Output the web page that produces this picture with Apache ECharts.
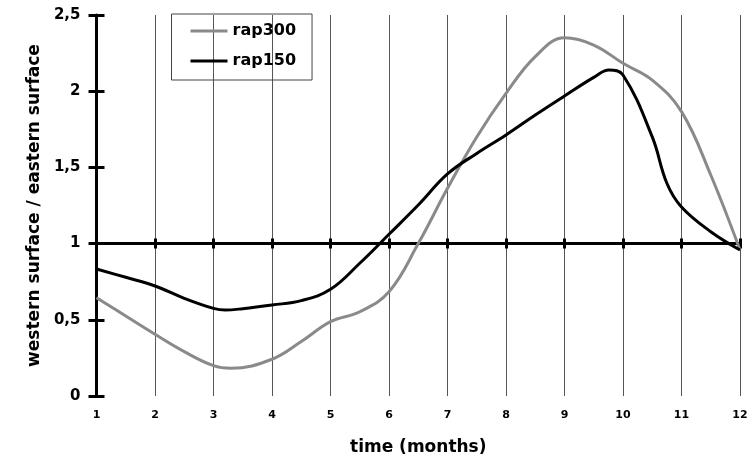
<!DOCTYPE html>
<html lang="en">
<head>
  <meta charset="UTF-8">
  <title>rap300 / rap150</title>
  <style>
    html, body {margin: 0; padding: 0; background: #fff;}
    #chart {width: 754px; height: 461px;}
  </style>
</head>
<body>
  <div id="chart"></div>

  <script src="https://cdn.jsdelivr.net/npm/echarts@6/dist/echarts.min.js"></script>
  <script>
    // data (half-month readings, plus the turning points)
    var monthTicks = [1, 2, 3, 4, 5, 6, 7, 8, 9, 10, 11, 12];

    var rap300Time = [1, 1.5, 2, 2.5, 3, 3.3, 4, 4.5, 5, 5.5, 6, 6.5, 7, 7.5, 8, 8.5, 9, 9.5, 10, 10.5, 11, 11.5, 12];
    var rap300 = [0.645, 0.525, 0.405, 0.291, 0.199, 0.182, 0.241, 0.357, 0.488, 0.553, 0.684, 1.00, 1.363,
                  1.70, 1.986, 2.227, 2.35, 2.303, 2.183, 2.073, 1.866, 1.45, 0.958];

    var rap150Time = [1, 1.5, 2, 2.5, 3, 3.2, 3.5, 4, 4.5, 5, 5.5, 6, 6.5, 7, 7.5, 8, 8.5, 9, 9.5, 9.76, 10, 10.5, 10.75, 11, 11.5, 12];
    var rap150 = [0.833, 0.779, 0.722, 0.641, 0.575, 0.564, 0.573, 0.597, 0.626, 0.70, 0.871, 1.061, 1.253,
                  1.457, 1.592, 1.713, 1.844, 1.969, 2.091, 2.139, 2.106, 1.70, 1.396, 1.24, 1.078, 0.958];

    var yMin = 0, yMax = 2.5, yStep = 0.5;
    var refLine = 1;   // the horizontal axis crosses here

    var font = '"DejaVu Sans", "Liberation Sans", Arial, sans-serif';

    function pairs(xs, ys) {
      return xs.map(function (x, i) { return [x, ys[i]]; });
    }

    var chart = echarts.init(document.getElementById('chart'));

    var xBase = {
      type: 'value',
      min: monthTicks[0],
      max: monthTicks[monthTicks.length - 1],
      interval: 1,
      gridIndex: 0
    };

    var option = {
      animation: false,
      grid: {left: 96.5, right: 14, top: 15, bottom: 65},
      legend: {
        orient: 'vertical',
        left: 171.5,
        top: 14,
        padding: [9, 16, 11, 19],
        itemGap: 14,
        itemWidth: 37,
        itemHeight: 3,
        icon: 'rect',
        borderColor: '#444',
        borderWidth: 1,
        textStyle: {fontFamily: font, fontWeight: 'bold', fontSize: 16, color: '#000'},
        data: ['rap300', 'rap150']
      },
      xAxis: [
        Object.assign({}, xBase, {
          position: 'bottom',
          name: 'time (months)',
          nameLocation: 'middle',
          nameGap: 43,
          nameTextStyle: {fontFamily: font, fontWeight: 'bold', fontSize: 17, color: '#000'},
          axisLine: {show: false, onZero: false},
          axisTick: {show: false},
          axisLabel: {margin: 14, fontFamily: font, fontWeight: 'bold', fontSize: 11, color: '#000'},
          splitLine: {show: true, lineStyle: {color: '#555', width: 1}}
        }),
        // horizontal line at 1, ticks going down
        Object.assign({}, xBase, {
          axisLine: {show: true, onZero: true, onZeroAxisIndex: 2, lineStyle: {color: '#000', width: 3}},
          axisTick: {show: true, length: 5, lineStyle: {color: '#000', width: 3}},
          axisLabel: {show: false},
          splitLine: {show: false}
        }),
        // same line, ticks going up
        Object.assign({}, xBase, {
          axisLine: {show: false, onZero: true, onZeroAxisIndex: 2},
          axisTick: {show: true, inside: true, length: 5, lineStyle: {color: '#000', width: 3}},
          axisLabel: {show: false},
          splitLine: {show: false}
        })
      ],
      yAxis: [
        {
          type: 'value',
          position: 'left',
          min: yMin, max: yMax, interval: yStep,
          name: 'western surface / eastern surface',
          nameLocation: 'middle',
          nameGap: 49,
          nameTextStyle: {fontFamily: font, fontWeight: 'bold', fontSize: 17, color: '#000'},
          axisLine: {show: true, onZero: false, lineStyle: {color: '#000', width: 3}},
          axisTick: {show: true, length: 8, lineStyle: {color: '#000', width: 3}},
          axisLabel: {
            margin: 16, fontFamily: font, fontWeight: 'bold', fontSize: 15, color: '#000',
            formatter: function (v) { return String(v).replace('.', ','); }
          },
          splitLine: {show: false}
        },
        {
          type: 'value',
          position: 'left',
          min: yMin, max: yMax, interval: yStep,
          axisLine: {show: false},
          axisTick: {show: true, inside: true, length: 8, lineStyle: {color: '#000', width: 3}},
          axisLabel: {show: false},
          splitLine: {show: false}
        },
        {
          // hidden helper axis whose zero sits at y = refLine
          type: 'value',
          show: false,
          min: yMin - refLine, max: yMax - refLine
        }
      ],
      series: [
        {
          name: 'rap300',
          type: 'line',
          smooth: 0.4,
          symbol: 'none',
          color: '#8a8a8a',
          lineStyle: {width: 3, color: '#8a8a8a'},
          data: pairs(rap300Time, rap300)
        },
        {
          name: 'rap150',
          type: 'line',
          smooth: 0.4,
          symbol: 'none',
          color: '#000',
          lineStyle: {width: 3, color: '#000'},
          data: pairs(rap150Time, rap150)
        }
      ]
    };

    chart.setOption(option);
  </script>
</body>
</html>
